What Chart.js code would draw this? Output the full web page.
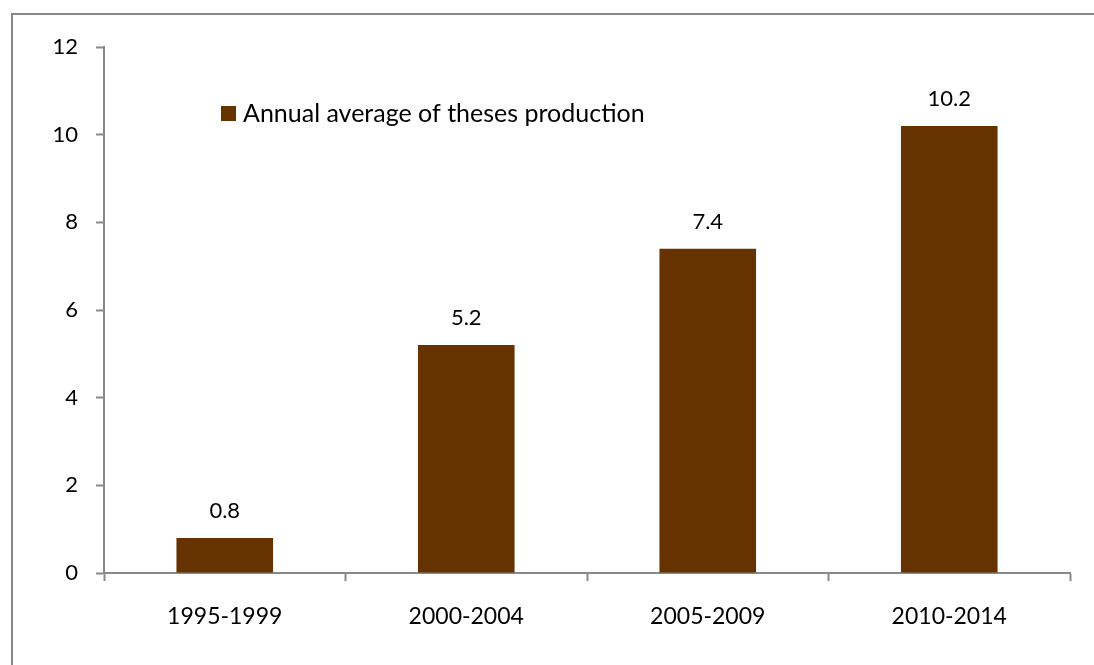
<!DOCTYPE html>
<html>
<head>
<meta charset="utf-8">
<script src="https://cdn.jsdelivr.net/npm/chart.js@4"></script>
<style>
  body { margin: 0; background: #fff; }
  #wrap { position: relative; width: 1094px; height: 665px; overflow: hidden; }
  #frame { position: absolute; left: 11px; top: 13px; width: 1200px; height: 800px; border: 2px solid #888888; box-sizing: border-box; }
  #chart { position: absolute; left: 0; top: 0; }
</style>
</head>
<body>
<div id="wrap">
  <div id="frame"></div>
  <canvas id="chart" width="1094" height="665"></canvas>
</div>
<script>
const periods = ['1995-1999', '2000-2004', '2005-2009', '2010-2014'];
const theses = [0.8, 5.2, 7.4, 10.2];
const yTicks = [0, 2, 4, 6, 8, 10, 12];

const colors = {
    bar: '#663300',
    axis: '#898989',
    text: '#000000'
}

const fontFamily = 'Lato, "Open Sans", sans-serif';

// value labels above each bar
const barLabels = {
    id: 'barLabels',
    afterDatasetsDraw(chart) {
        const ctx = chart.ctx;
        const meta = chart.getDatasetMeta(0);
        ctx.save();
        ctx.font = '22px ' + fontFamily;
        ctx.fillStyle = colors.text;
        ctx.textAlign = 'center';
        ctx.textBaseline = 'middle';
        meta.data.forEach((bar, i) => {
            ctx.fillText(chart.data.datasets[0].data[i].toFixed(1), bar.x, bar.y - 27);
        });
        ctx.restore();
    }
};

// legend sitting inside the plot, like the original
const innerLegend = {
    id: 'innerLegend',
    afterDraw(chart) {
        const ctx = chart.ctx;
        const area = chart.chartArea;
        const ds = chart.data.datasets[0];
        const x = area.left + 117;
        const y = area.top + 59;
        ctx.save();
        ctx.fillStyle = ds.backgroundColor;
        ctx.fillRect(x, y, 15, 15);
        ctx.font = '25px ' + fontFamily;
        ctx.fillStyle = colors.text;
        ctx.textAlign = 'left';
        ctx.textBaseline = 'middle';
        ctx.fillText(ds.label, x + 22, y + 8);
        ctx.restore();
    }
};

const ctx = document.getElementById('chart').getContext('2d');
const chart = new Chart(ctx, {
    type: 'bar',
    data: {
        labels: periods,
        datasets: [{
            label: 'Annual average of theses production',
            data: theses,
            backgroundColor: colors.bar,
            borderWidth: 0,
            barPercentage: 0.4,
            categoryPercentage: 1
        }]
    },
    options: {
        responsive: false,
        animation: false,
        layout: {
            padding: { top: 47, right: 24, bottom: 0, left: 0 }
        },
        plugins: {
            legend: { display: false },
            tooltip: { enabled: false }
        },
        scales: {
            x: {
                grid: {
                    offset: true,
                    drawOnChartArea: false,
                    drawTicks: true,
                    tickLength: 8,
                    tickWidth: 2,
                    color: colors.axis
                },
                border: { color: colors.axis, width: 2 },
                ticks: {
                    color: colors.text,
                    padding: 22,
                    font: { family: fontFamily, size: 23 }
                },
                afterFit(scale) { scale.height = 92; }
            },
            y: {
                min: 0,
                max: 12,
                afterBuildTicks(scale) {
                    scale.ticks = yTicks.map(v => ({ value: v }));
                },
                grid: {
                    drawOnChartArea: false,
                    drawTicks: true,
                    tickLength: 8,
                    tickWidth: 2,
                    color: colors.axis
                },
                border: { color: colors.axis, width: 2 },
                ticks: {
                    color: colors.text,
                    padding: 18,
                    font: { family: fontFamily, size: 22 }
                },
                afterFit(scale) { scale.width = 104; }
            }
        }
    },
    plugins: [barLabels, innerLegend]
});
</script>
</body>
</html>
